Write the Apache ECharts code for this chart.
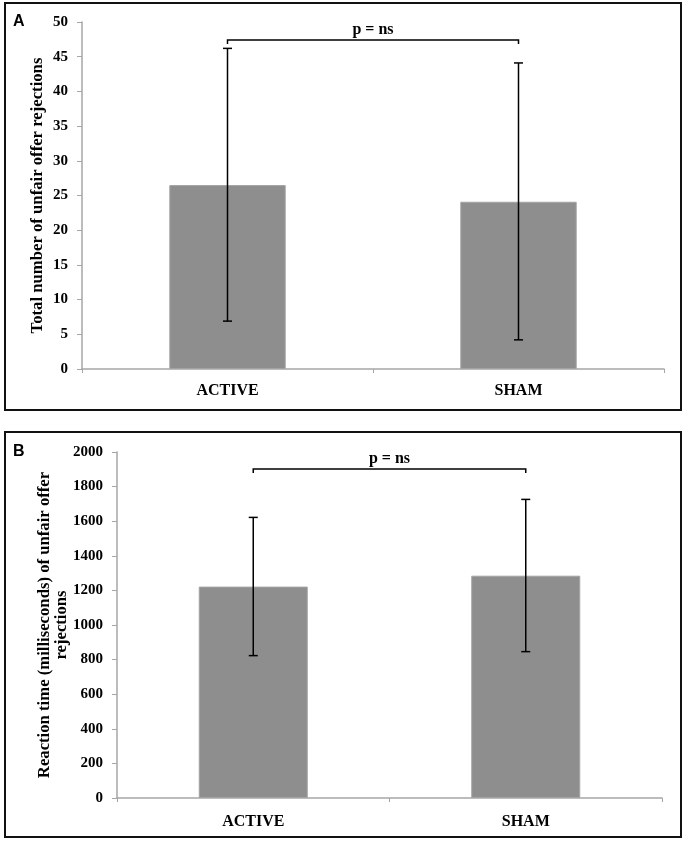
<!DOCTYPE html>
<html>
<head>
<meta charset="utf-8">
<script src="https://cdn.jsdelivr.net/npm/echarts@6/dist/echarts.min.js"></script>
<style>
  html, body { margin: 0; padding: 0; background: #fff; }
  #main { width: 686px; height: 842px; }
</style>
</head>
<body>
<div id="main"></div>
<script>
// groups shared by both panels
var groups = ['ACTIVE', 'SHAM'];

// panel A: total number of unfair offer rejections
var rejectMean = [26.5, 24.1];
var rejectLow = [6.9, 4.2];
var rejectHigh = [46.2, 44.1];
var rejectBracketY = 47.4;

// panel B: reaction time (ms)
var rtMean = [1222, 1285];
var rtLow = [823, 846];
var rtHigh = [1622, 1726];
var rtBracketY = 1902;

var pLabel = 'p = ns';

var serif = '"Liberation Serif", "Times New Roman", serif';
var axisGray = '#a6a6a6';

function errData(lo, hi) {
    return groups.map(function (g, i) { return [i, lo[i], hi[i]]; });
}

function renderError(params, api) {
    var x = api.value(0);
    var lo = api.coord([x, api.value(1)]);
    var hi = api.coord([x, api.value(2)]);
    var cap = 4.5;
    var style = { stroke: '#000', lineWidth: 1.5 };
    return {
        type: 'group',
        children: [
            { type: 'line', shape: { x1: hi[0], y1: hi[1], x2: lo[0], y2: lo[1] }, style: style },
            { type: 'line', shape: { x1: hi[0] - cap, y1: hi[1], x2: hi[0] + cap, y2: hi[1] }, style: style },
            { type: 'line', shape: { x1: lo[0] - cap, y1: lo[1], x2: lo[0] + cap, y2: lo[1] }, style: style }
        ]
    };
}

function renderBracket(params, api) {
    var a = api.coord([api.value(0), api.value(2)]);
    var b = api.coord([api.value(1), api.value(2)]);
    var style = { stroke: '#000', lineWidth: 1.5, fill: null };
    return {
        type: 'group',
        children: [
            { type: 'polyline', shape: { points: [[a[0], a[1] + 4], [a[0], a[1]], [b[0], b[1]], [b[0], b[1] + 4]] }, style: style },
            { type: 'text', x: (a[0] + b[0]) / 2, y: a[1] - 2,
              style: { text: pLabel, font: 'bold 16px ' + serif, fill: '#000', align: 'center', verticalAlign: 'bottom' } }
        ]
    };
}

function xAxisCfg(gridIndex, margin) {
    return {
        type: 'category', gridIndex: gridIndex, data: groups,
        axisLine: { lineStyle: { color: axisGray, width: 1.5 } },
        axisTick: { show: true, length: 4, lineStyle: { color: axisGray } },
        axisLabel: { color: '#000', fontFamily: serif, fontWeight: 'bold', fontSize: 16, margin: margin }
    };
}

function yAxisCfg(gridIndex, max, interval, name, nameGap) {
    return {
        type: 'value', gridIndex: gridIndex, min: 0, max: max, interval: interval,
        name: name, nameLocation: 'middle', nameRotate: 90, nameGap: nameGap, nameMoveOverlap: false,
        nameTextStyle: { color: '#000', fontFamily: serif, fontWeight: 'bold', fontSize: 16.7, lineHeight: 17 },
        axisLine: { show: true, lineStyle: { color: axisGray, width: 1.5 } },
        axisTick: { show: true, length: 5, lineStyle: { color: axisGray } },
        splitLine: { show: false },
        axisLabel: { color: '#000', fontFamily: serif, fontWeight: 'bold', fontSize: 15, margin: 14,
                     formatter: function (v) { return String(v); } }
    };
}

var barStyle = { color: '#8e8e8e', borderColor: '#a3a3a3', borderWidth: 1 };

var chart = echarts.init(document.getElementById('main'), null, { renderer: 'canvas' });
var option = {
    backgroundColor: '#fff',
    animation: false,
    grid: [
        { left: 82, right: 22, top: 22, height: 347 },
        { left: 117, right: 24, top: 452, height: 346 }
    ],
    xAxis: [xAxisCfg(0, 14), xAxisCfg(1, 16)],
    yAxis: [
        yAxisCfg(0, 50, 5, 'Total number of unfair offer rejections', 36),
        yAxisCfg(1, 2000, 200, 'Reaction time (milliseconds) of unfair offer\nrejections', 47)
    ],
    graphic: [
        { type: 'rect', shape: { x: 5, y: 3, width: 676, height: 407 }, style: { fill: null, stroke: '#111', lineWidth: 2 } },
        { type: 'rect', shape: { x: 5, y: 432, width: 676, height: 405 }, style: { fill: null, stroke: '#111', lineWidth: 2 } },
        { type: 'text', left: 13, top: 14, style: { text: 'A', font: 'bold 16px "Liberation Sans", Arial, sans-serif', fill: '#000' } },
        { type: 'text', left: 13, top: 444, style: { text: 'B', font: 'bold 16px "Liberation Sans", Arial, sans-serif', fill: '#000' } }
    ],
    series: [
        { type: 'bar', xAxisIndex: 0, yAxisIndex: 0, data: rejectMean, barWidth: '40%', itemStyle: barStyle },
        { type: 'custom', xAxisIndex: 0, yAxisIndex: 0, data: errData(rejectLow, rejectHigh), renderItem: renderError, z: 5 },
        { type: 'custom', xAxisIndex: 0, yAxisIndex: 0, data: [[0, 1, rejectBracketY]], renderItem: renderBracket, z: 5 },
        { type: 'bar', xAxisIndex: 1, yAxisIndex: 1, data: rtMean, barWidth: '40%', itemStyle: barStyle },
        { type: 'custom', xAxisIndex: 1, yAxisIndex: 1, data: errData(rtLow, rtHigh), renderItem: renderError, z: 5 },
        { type: 'custom', xAxisIndex: 1, yAxisIndex: 1, data: [[0, 1, rtBracketY]], renderItem: renderBracket, z: 5 }
    ]
};
chart.setOption(option);
window.addEventListener('resize', function () {
    chart.resize();
});
</script>
</body>
</html>
